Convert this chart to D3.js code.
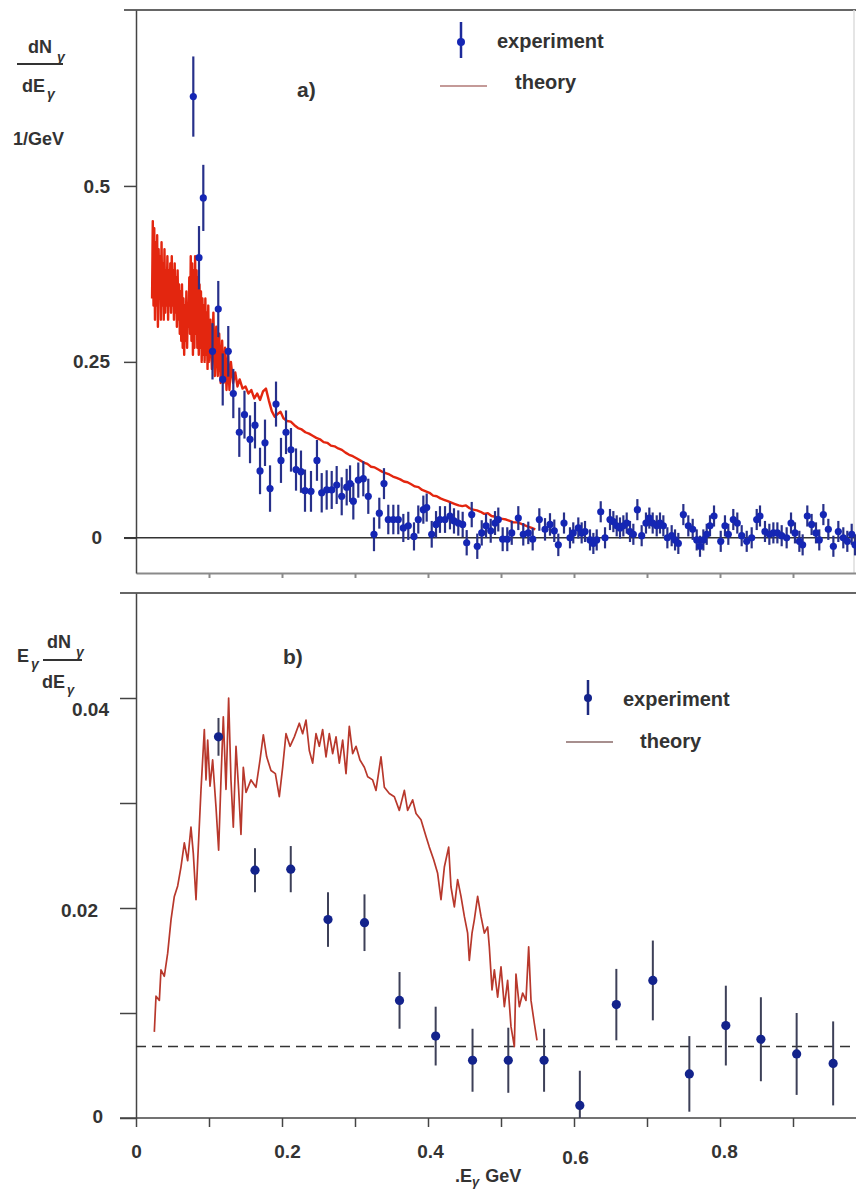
<!DOCTYPE html>
<html>
<head>
<meta charset="utf-8">
<script src="https://cdn.jsdelivr.net/npm/d3@7"></script>
<style>
    body { margin: 0; background: #fff; }
    text { font-family: "Liberation Sans", Arial, sans-serif; font-weight: bold; fill: #333; }
</style>
</head>
<body>
<svg id="chart" width="856" height="1192"></svg>
<script>
// Panel a) experiment: [E (GeV), dN/dE, error]
const expA = [
    [0.0785, 0.627, 0.057], [0.0863, 0.398, 0.045], [0.0922, 0.483, 0.047], [0.1048, 0.265, 0.040],
    [0.1127, 0.325, 0.040], [0.1188, 0.225, 0.037], [0.1264, 0.265, 0.036], [0.1333, 0.205, 0.035],
    [0.1415, 0.150, 0.035], [0.1486, 0.175, 0.034], [0.1562, 0.140, 0.034], [0.1630, 0.160, 0.033],
    [0.1699, 0.095, 0.033], [0.1767, 0.135, 0.033], [0.1836, 0.070, 0.033], [0.1918, 0.190, 0.032],
    [0.1986, 0.110, 0.032], [0.2055, 0.150, 0.031], [0.2123, 0.125, 0.031], [0.2192, 0.097, 0.030],
    [0.2260, 0.094, 0.030], [0.2315, 0.067, 0.030], [0.2397, 0.066, 0.029], [0.2479, 0.110, 0.029],
    [0.2544, 0.064, 0.028], [0.2612, 0.068, 0.028], [0.2681, 0.068, 0.027], [0.2749, 0.075, 0.027],
    [0.2818, 0.059, 0.027], [0.2886, 0.072, 0.026], [0.2932, 0.077, 0.026], [0.2977, 0.052, 0.026],
    [0.3045, 0.082, 0.025], [0.3114, 0.084, 0.025], [0.3182, 0.059, 0.025], [0.3260, 0.005, 0.024],
    [0.3333, 0.035, 0.022], [0.3397, 0.077, 0.022], [0.3456, 0.026, 0.021], [0.3525, 0.026, 0.021],
    [0.3593, 0.026, 0.021], [0.3662, 0.014, 0.020], [0.3730, 0.017, 0.020], [0.3808, 0.002, 0.020],
    [0.3867, 0.026, 0.020], [0.3936, 0.040, 0.020], [0.3982, 0.043, 0.020], [0.4051, 0.005, 0.019],
    [0.4110, 0.019, 0.019], [0.4164, 0.026, 0.019], [0.4233, 0.026, 0.019], [0.4301, 0.031, 0.019],
    [0.4356, 0.024, 0.018], [0.4415, 0.021, 0.018], [0.4475, 0.019, 0.018], [0.4530, -0.007, 0.018],
    [0.4599, 0.033, 0.018], [0.4675, -0.012, 0.018], [0.4736, 0.007, 0.018], [0.4795, 0.017, 0.017],
    [0.4859, 0.010, 0.017], [0.4918, 0.021, 0.017], [0.4963, 0.026, 0.017], [0.5023, -0.002, 0.017],
    [0.5086, -0.002, 0.017], [0.5147, 0.007, 0.017], [0.5237, 0.028, 0.017], [0.5305, 0.005, 0.016],
    [0.5374, 0.007, 0.016], [0.5434, -0.002, 0.016], [0.5525, 0.026, 0.016], [0.5603, 0.012, 0.016],
    [0.5671, 0.019, 0.016], [0.5730, 0.010, 0.016], [0.5785, -0.010, 0.016], [0.5863, 0.021, 0.015],
    [0.5945, 0.000, 0.015], [0.5990, 0.007, 0.015], [0.6059, 0.014, 0.015], [0.6105, 0.007, 0.015],
    [0.6151, 0.009, 0.015], [0.6219, -0.003, 0.015], [0.6265, -0.008, 0.015], [0.6311, -0.003, 0.015],
    [0.6366, 0.037, 0.015], [0.6425, 0.000, 0.015], [0.6493, 0.026, 0.015], [0.6539, 0.023, 0.015],
    [0.6585, 0.017, 0.015], [0.6630, 0.014, 0.015], [0.6676, 0.017, 0.015], [0.6722, 0.021, 0.015],
    [0.6767, 0.009, 0.015], [0.6813, 0.005, 0.015], [0.6868, 0.040, 0.015], [0.6927, 0.003, 0.015],
    [0.6986, 0.021, 0.015], [0.7032, 0.028, 0.015], [0.7078, 0.021, 0.015], [0.7133, 0.017, 0.015],
    [0.7178, 0.021, 0.015], [0.7224, 0.017, 0.015], [0.7279, 0.000, 0.015], [0.7338, 0.003, 0.015],
    [0.7384, -0.003, 0.015], [0.7429, -0.008, 0.015], [0.7498, 0.033, 0.015], [0.7566, 0.017, 0.015],
    [0.7626, 0.012, 0.015], [0.7681, -0.003, 0.015], [0.7726, -0.012, 0.015], [0.7772, -0.003, 0.015],
    [0.7818, 0.005, 0.015], [0.7863, 0.017, 0.015], [0.7918, 0.031, 0.015], [0.8010, -0.005, 0.015],
    [0.8068, 0.017, 0.015], [0.8114, 0.005, 0.015], [0.8182, 0.026, 0.015], [0.8237, 0.021, 0.015],
    [0.8297, 0.003, 0.015], [0.8366, -0.005, 0.015], [0.8434, 0.000, 0.015], [0.8503, 0.026, 0.015],
    [0.8548, 0.031, 0.015], [0.8616, 0.009, 0.015], [0.8676, 0.005, 0.015], [0.8731, 0.007, 0.015],
    [0.8786, 0.007, 0.015], [0.8845, 0.003, 0.015], [0.8913, 0.000, 0.015], [0.8973, 0.021, 0.015],
    [0.9027, 0.007, 0.015], [0.9087, -0.005, 0.015], [0.9132, -0.010, 0.015], [0.9196, 0.031, 0.015],
    [0.9255, 0.019, 0.015], [0.9315, 0.007, 0.015], [0.9360, -0.003, 0.015], [0.9416, 0.033, 0.015],
    [0.9484, 0.012, 0.015], [0.9553, -0.012, 0.015], [0.9621, 0.009, 0.015], [0.9689, 0.000, 0.015],
    [0.9744, -0.005, 0.015], [0.9804, 0.005, 0.015], [0.9849, -0.010, 0.015]
];

// Panel a) theory: [E (GeV), dN/dE]
const theoryA = [
    [0.022, 0.34], [0.023, 0.45], [0.024, 0.33], [0.025, 0.44], [0.026, 0.31], [0.027, 0.42], [0.028, 0.33],
    [0.029, 0.43], [0.030, 0.30], [0.031, 0.41], [0.032, 0.34], [0.033, 0.40], [0.034, 0.31], [0.035, 0.42],
    [0.036, 0.33], [0.037, 0.39], [0.038, 0.31], [0.039, 0.41], [0.040, 0.32], [0.041, 0.38], [0.042, 0.33],
    [0.043, 0.40], [0.044, 0.31], [0.045, 0.38], [0.046, 0.33], [0.047, 0.39], [0.048, 0.32], [0.049, 0.40],
    [0.050, 0.33], [0.051, 0.38], [0.052, 0.31], [0.053, 0.39], [0.054, 0.32], [0.055, 0.37], [0.056, 0.30],
    [0.057, 0.38], [0.058, 0.31], [0.059, 0.36], [0.060, 0.29], [0.061, 0.35], [0.062, 0.28], [0.063, 0.36],
    [0.064, 0.27], [0.065, 0.34], [0.066, 0.26], [0.067, 0.33], [0.068, 0.28], [0.069, 0.35], [0.070, 0.27],
    [0.071, 0.33], [0.072, 0.30], [0.073, 0.37], [0.074, 0.29], [0.075, 0.40], [0.076, 0.28], [0.077, 0.39],
    [0.078, 0.26], [0.079, 0.38], [0.080, 0.27], [0.081, 0.40], [0.082, 0.29], [0.083, 0.38], [0.084, 0.27],
    [0.085, 0.37], [0.086, 0.26], [0.087, 0.36], [0.088, 0.27], [0.089, 0.35], [0.090, 0.25], [0.091, 0.34],
    [0.092, 0.26], [0.093, 0.33], [0.094, 0.25], [0.095, 0.34], [0.096, 0.26], [0.097, 0.32], [0.098, 0.24],
    [0.099, 0.33], [0.100, 0.25], [0.102, 0.31], [0.104, 0.24], [0.106, 0.32], [0.108, 0.23], [0.110, 0.30],
    [0.112, 0.23], [0.114, 0.29], [0.116, 0.22], [0.118, 0.28], [0.120, 0.22], [0.122, 0.27], [0.124, 0.21],
    [0.126, 0.26], [0.128, 0.21], [0.130, 0.25], [0.133, 0.22], [0.136, 0.235], [0.139, 0.215], [0.142, 0.225],
    [0.146, 0.212], [0.150, 0.215], [0.154, 0.205], [0.158, 0.21], [0.162, 0.198], [0.166, 0.205], [0.170, 0.196],
    [0.174, 0.208], [0.178, 0.212], [0.182, 0.195], [0.186, 0.18], [0.190, 0.172], [0.194, 0.176], [0.198, 0.179],
    [0.202, 0.17], [0.207, 0.166], [0.212, 0.165], [0.217, 0.16], [0.222, 0.156], [0.227, 0.154], [0.232, 0.15],
    [0.237, 0.148], [0.242, 0.145], [0.247, 0.142], [0.252, 0.14], [0.257, 0.136], [0.262, 0.135], [0.267, 0.131],
    [0.272, 0.13], [0.277, 0.127], [0.282, 0.125], [0.287, 0.121], [0.292, 0.118], [0.297, 0.116], [0.302, 0.113],
    [0.307, 0.11], [0.312, 0.107], [0.317, 0.105], [0.322, 0.101], [0.327, 0.1], [0.332, 0.097], [0.337, 0.094],
    [0.342, 0.092], [0.347, 0.09], [0.352, 0.087], [0.357, 0.085], [0.362, 0.083], [0.367, 0.08], [0.372, 0.079],
    [0.377, 0.076], [0.382, 0.073], [0.387, 0.072], [0.392, 0.068], [0.397, 0.066], [0.402, 0.064], [0.407, 0.06],
    [0.412, 0.059], [0.417, 0.056], [0.422, 0.054], [0.427, 0.052], [0.432, 0.05], [0.437, 0.048], [0.442, 0.046],
    [0.447, 0.045], [0.452, 0.046], [0.457, 0.042], [0.462, 0.04], [0.467, 0.039], [0.472, 0.037], [0.477, 0.034],
    [0.482, 0.035], [0.487, 0.031], [0.492, 0.03], [0.497, 0.028], [0.502, 0.027], [0.507, 0.026], [0.512, 0.024],
    [0.517, 0.022], [0.522, 0.022], [0.527, 0.02], [0.532, 0.018], [0.537, 0.016], [0.542, 0.014], [0.547, 0.012]
];

// Panel b) experiment: [E (GeV), E dN/dE, error]
const expB = [
    [0.113, 0.0363, 0.0018], [0.163, 0.0236, 0.0021], [0.212, 0.0237, 0.0022], [0.263, 0.0189, 0.0026],
    [0.313, 0.0186, 0.0027], [0.361, 0.0112, 0.0027], [0.4105, 0.0078, 0.0028], [0.461, 0.0055, 0.0030],
    [0.510, 0.0055, 0.0031], [0.559, 0.0055, 0.0030], [0.608, 0.0012, 0.0033], [0.658, 0.0108, 0.0034],
    [0.708, 0.0131, 0.0038], [0.758, 0.0042, 0.0036], [0.808, 0.0088, 0.0038], [0.856, 0.0075, 0.0040],
    [0.905, 0.0061, 0.0039], [0.955, 0.0052, 0.0040]
];

// Panel b) theory: [E (GeV), E dN/dE]
const theoryB = [
    [0.0251, 0.0082], [0.0274, 0.0116], [0.032, 0.0112], [0.0342, 0.0141], [0.0388, 0.0135], [0.0434, 0.0157],
    [0.048, 0.0189], [0.0525, 0.0211], [0.0571, 0.0221], [0.0616, 0.0239], [0.0662, 0.0262], [0.0708, 0.0245],
    [0.0753, 0.0277], [0.0785, 0.0252], [0.0822, 0.0208], [0.0845, 0.0245], [0.089, 0.0312], [0.0936, 0.037],
    [0.0959, 0.0322], [0.0982, 0.036], [0.1014, 0.0316], [0.105, 0.0341], [0.1096, 0.0296], [0.1132, 0.0255],
    [0.1164, 0.0322], [0.1196, 0.0382], [0.1233, 0.0313], [0.1269, 0.040], [0.1301, 0.0322], [0.1333, 0.0277],
    [0.137, 0.0354], [0.1406, 0.0313], [0.1438, 0.027], [0.147, 0.0334], [0.1507, 0.031], [0.1575, 0.0322],
    [0.1644, 0.0315], [0.1699, 0.0341], [0.1744, 0.0365], [0.179, 0.0344], [0.1849, 0.0331], [0.1909, 0.0328],
    [0.1963, 0.0306], [0.2009, 0.0334], [0.2055, 0.0366], [0.211, 0.0354], [0.2169, 0.0363], [0.2237, 0.0376],
    [0.2283, 0.0366], [0.2329, 0.0379], [0.2374, 0.035], [0.242, 0.0338], [0.2466, 0.0366], [0.2511, 0.0354],
    [0.2557, 0.037], [0.2603, 0.0344], [0.2648, 0.0366], [0.2694, 0.0347], [0.274, 0.0363], [0.2785, 0.0338],
    [0.2831, 0.036], [0.2877, 0.0328], [0.2922, 0.0373], [0.2968, 0.0347], [0.3014, 0.0354], [0.3068, 0.0341],
    [0.3128, 0.0334], [0.3174, 0.0325], [0.3242, 0.0322], [0.3288, 0.0312], [0.3356, 0.0344], [0.3402, 0.0315],
    [0.347, 0.0309], [0.3539, 0.0306], [0.3607, 0.0293], [0.3676, 0.0312], [0.3721, 0.0293], [0.379, 0.0303],
    [0.3836, 0.029], [0.3904, 0.0284], [0.3973, 0.0268], [0.4018, 0.0258], [0.4078, 0.0246], [0.4132, 0.0233],
    [0.4178, 0.0208], [0.4224, 0.0239], [0.4283, 0.0258], [0.4315, 0.022], [0.4361, 0.0201], [0.4406, 0.0227],
    [0.4452, 0.0211], [0.4498, 0.0192], [0.4543, 0.0176], [0.4566, 0.015], [0.4603, 0.0176], [0.4635, 0.0189],
    [0.468, 0.0211], [0.4726, 0.0192], [0.4772, 0.0176], [0.4817, 0.0182], [0.484, 0.0163], [0.4877, 0.0122],
    [0.4909, 0.0141], [0.4954, 0.0115], [0.5, 0.0144], [0.5046, 0.0106], [0.5091, 0.0131], [0.5137, 0.0087],
    [0.5183, 0.0068], [0.5205, 0.0137], [0.5251, 0.0106], [0.5297, 0.0119], [0.5342, 0.0112], [0.5379, 0.0163],
    [0.5411, 0.0112], [0.5457, 0.009], [0.5493, 0.0074]
];

const baselineB = 0.0068;
const ticksA = [0, 0.25, 0.5];
const ticksB = [0, 0.02, 0.04];
const ticksX = [0, 0.2, 0.4, 0.6, 0.8];
const minorX = d3.range(0, 10).map(i => i / 10);
const minorB = d3.range(0, 5).map(i => i / 100);

const right = 856;

const svg = d3.select('#chart');

// Scales (shared energy axis)
const x = d3.scaleLinear().domain([0, 1]).range([136, 866]);
const yA = d3.scaleLinear().domain([-0.05, 0.75]).range([573, 10]);
const yB = d3.scaleLinear().domain([0, 0.05]).range([1118, 593]);

const styleAxis = (g, color, w) => {
    g.select('.domain').attr('stroke', color).attr('stroke-width', w);
    g.selectAll('.tick line').attr('stroke', color).attr('stroke-width', w);
    g.selectAll('.tick text').attr('font-size', 19).attr('fill', '#333')
        .attr('font-family', '"Liberation Sans", Arial, sans-serif').attr('font-weight', 'bold');
};

svg.append('defs').call(d => {
    d.append('clipPath').attr('id', 'clipA').append('rect')
        .attr('x', 136).attr('y', 10).attr('width', right - 136).attr('height', 563);
    d.append('clipPath').attr('id', 'clipB').append('rect')
        .attr('x', 136).attr('y', 593).attr('width', right - 136).attr('height', 525);
});

// ---------- Panel a ----------
svg.append('line').attr('x1', 124).attr('x2', right).attr('y1', 10).attr('y2', 10)
    .attr('stroke', '#666').attr('stroke-width', 2);
svg.append('line').attr('x1', right - 2).attr('x2', right - 2).attr('y1', 10).attr('y2', 573)
    .attr('stroke', '#ddd').attr('stroke-width', 1.5);

svg.append('g')
    .attr('transform', 'translate(0,573)')
    .call(d3.axisBottom(x).tickValues(minorX.slice(1)).tickSize(5).tickSizeOuter(0).tickFormat(''))
    .call(g => styleAxis(g, '#8a8a8a', 2));

svg.append('g')
    .attr('transform', 'translate(136,0)')
    .call(d3.axisLeft(yA).tickValues(ticksA).tickSize(12).tickSizeOuter(0).tickPadding(14).tickFormat(d => String(d)))
    .call(g => styleAxis(g, '#444', 1.5))
    .call(g => g.selectAll('.tick text').attr('dx', d => d === 0 ? -8 : 0));

svg.append('line').attr('x1', 124).attr('x2', right).attr('y1', yA(0)).attr('y2', yA(0))
    .attr('stroke', '#333').attr('stroke-width', 1.5);

const plotA = svg.append('g').attr('clip-path', 'url(#clipA)');

plotA.append('path')
    .datum(theoryA)
    .attr('fill', 'none')
    .attr('stroke', '#e3260f')
    .attr('stroke-width', 2.4)
    .attr('stroke-linejoin', 'round')
    .attr('d', d3.line().x(d => x(d[0])).y(d => yA(d[1])));

plotA.selectAll('line.errA')
    .data(expA)
    .enter()
    .append('line')
    .attr('class', 'errA')
    .attr('x1', d => x(d[0])).attr('x2', d => x(d[0]))
    .attr('y1', d => yA(d[1] - d[2])).attr('y2', d => yA(d[1] + d[2]))
    .attr('stroke', '#27308a')
    .attr('stroke-width', 2.2);

plotA.selectAll('circle.ptA')
    .data(expA)
    .enter()
    .append('circle')
    .attr('class', 'ptA')
    .attr('cx', d => x(d[0]))
    .attr('cy', d => yA(d[1]))
    .attr('r', 3.6)
    .attr('fill', '#1526b4');

// labels panel a
svg.append('text').attr('x', 297).attr('y', 97).attr('font-size', 21).text('a)');

const legA = svg.append('g');
legA.append('line').attr('x1', 461).attr('x2', 461).attr('y1', 22).attr('y2', 58)
    .attr('stroke', '#1d2a9a').attr('stroke-width', 2.5);
legA.append('circle').attr('cx', 461).attr('cy', 42).attr('r', 4).attr('fill', '#1526b4');
legA.append('text').attr('x', 497).attr('y', 48).attr('font-size', 20).text('experiment');
legA.append('line').attr('x1', 440).attr('x2', 487).attr('y1', 86).attr('y2', 86)
    .attr('stroke', '#c49a98').attr('stroke-width', 2);
legA.append('text').attr('x', 515).attr('y', 89).attr('font-size', 20).text('theory');

// y title panel a
const titA = svg.append('g');
titA.append('text').attr('x', 28).attr('y', 53).attr('font-size', 18).text('dN');
titA.append('text').attr('x', 57).attr('y', 62).attr('font-size', 14).attr('font-style', 'italic').text('γ');
titA.append('line').attr('x1', 17).attr('x2', 63).attr('y1', 64).attr('y2', 64).attr('stroke', '#333').attr('stroke-width', 2);
titA.append('text').attr('x', 22).attr('y', 92).attr('font-size', 18).text('dE');
titA.append('text').attr('x', 47).attr('y', 99).attr('font-size', 14).attr('font-style', 'italic').text('γ');
titA.append('text').attr('x', 13).attr('y', 145).attr('font-size', 18).text('1/GeV');

// ---------- Panel b ----------
svg.append('line').attr('x1', 120).attr('x2', right).attr('y1', 593).attr('y2', 593)
    .attr('stroke', '#666').attr('stroke-width', 2);

const labelShiftB = new Map([[0.04, [-27, 11]], [0.02, [-38, 2]], [0, [-33, -2]]]);
svg.append('g')
    .attr('transform', 'translate(136,0)')
    .call(d3.axisLeft(yB).tickValues(minorB).tickSize(16).tickSizeOuter(0).tickPadding(0)
        .tickFormat(d => ticksB.includes(d) ? String(d) : ''))
    .call(g => styleAxis(g, '#444', 1.5))
    .call(g => g.selectAll('.tick text')
        .attr('x', d => labelShiftB.has(d) ? labelShiftB.get(d)[0] : -20)
        .attr('dy', d => labelShiftB.has(d) ? (0.32 * 19 + labelShiftB.get(d)[1]) + 'px' : '0.32em'));

const labelShiftX = new Map([[0.2, [5, 0]], [0.6, [1, 6]], [0.8, [4, 0]], [0.4, [2, 0]]]);
svg.append('g')
    .attr('transform', 'translate(0,1118)')
    .call(d3.axisBottom(x).tickValues(minorX).tickSize(9).tickSizeOuter(0).tickPadding(18)
        .tickFormat(d => ticksX.includes(d) ? String(d) : ''))
    .call(g => styleAxis(g, '#444', 1.5))
    .call(g => g.select('.domain').attr('d', 'M120,0H' + right))
    .call(g => g.selectAll('.tick text')
        .attr('dx', d => labelShiftX.has(d) ? labelShiftX.get(d)[0] : 0)
        .attr('y', d => 27 + (labelShiftX.has(d) ? labelShiftX.get(d)[1] : 0)));

const plotB = svg.append('g').attr('clip-path', 'url(#clipB)');

plotB.append('line')
    .attr('x1', 136).attr('x2', right)
    .attr('y1', yB(baselineB)).attr('y2', yB(baselineB))
    .attr('stroke', '#333').attr('stroke-width', 1.5).attr('stroke-dasharray', '10,6');

plotB.append('path')
    .datum(theoryB)
    .attr('fill', 'none')
    .attr('stroke', '#b8382c')
    .attr('stroke-width', 1.7)
    .attr('stroke-linejoin', 'round')
    .attr('d', d3.line().x(d => x(d[0])).y(d => yB(d[1])));

plotB.selectAll('line.errB')
    .data(expB)
    .enter()
    .append('line')
    .attr('class', 'errB')
    .attr('x1', d => x(d[0])).attr('x2', d => x(d[0]))
    .attr('y1', d => yB(d[1] - d[2])).attr('y2', d => yB(d[1] + d[2]))
    .attr('stroke', '#3d4058')
    .attr('stroke-width', 2);

plotB.selectAll('circle.ptB')
    .data(expB)
    .enter()
    .append('circle')
    .attr('class', 'ptB')
    .attr('cx', d => x(d[0]))
    .attr('cy', d => yB(d[1]))
    .attr('r', 4.6)
    .attr('fill', '#13238c');

svg.append('text').attr('x', 283).attr('y', 664).attr('font-size', 21).text('b)');

const legB = svg.append('g');
legB.append('line').attr('x1', 588).attr('x2', 588).attr('y1', 680).attr('y2', 715)
    .attr('stroke', '#1d2a80').attr('stroke-width', 2.5);
legB.append('circle').attr('cx', 588).attr('cy', 698).attr('r', 4).attr('fill', '#13238c');
legB.append('text').attr('x', 623).attr('y', 706).attr('font-size', 20).text('experiment');
legB.append('line').attr('x1', 566).attr('x2', 613).attr('y1', 742).attr('y2', 742)
    .attr('stroke', '#8a6a68').attr('stroke-width', 1.5);
legB.append('text').attr('x', 640).attr('y', 748).attr('font-size', 20).text('theory');

// y title panel b
const titB = svg.append('g');
titB.append('text').attr('x', 17).attr('y', 662).attr('font-size', 18).text('E');
titB.append('text').attr('x', 31).attr('y', 669).attr('font-size', 14).attr('font-style', 'italic').text('γ');
titB.append('text').attr('x', 47).attr('y', 648).attr('font-size', 18).text('dN');
titB.append('text').attr('x', 76).attr('y', 657).attr('font-size', 14).attr('font-style', 'italic').text('γ');
titB.append('line').attr('x1', 43).attr('x2', 82).attr('y1', 660).attr('y2', 660).attr('stroke', '#333').attr('stroke-width', 2);
titB.append('text').attr('x', 42).attr('y', 688).attr('font-size', 18).text('dE');
titB.append('text').attr('x', 67).attr('y', 694).attr('font-size', 13).attr('font-style', 'italic').text('γ');

// x title
const xt = svg.append('text').attr('x', 455).attr('y', 1182).attr('font-size', 18);
xt.append('tspan').text('.E');
xt.append('tspan').attr('font-size', 13).attr('font-style', 'italic').attr('dy', 4).text('γ');
xt.append('tspan').attr('dy', -4).attr('dx', 6).text('GeV');
</script>
</body>
</html>
